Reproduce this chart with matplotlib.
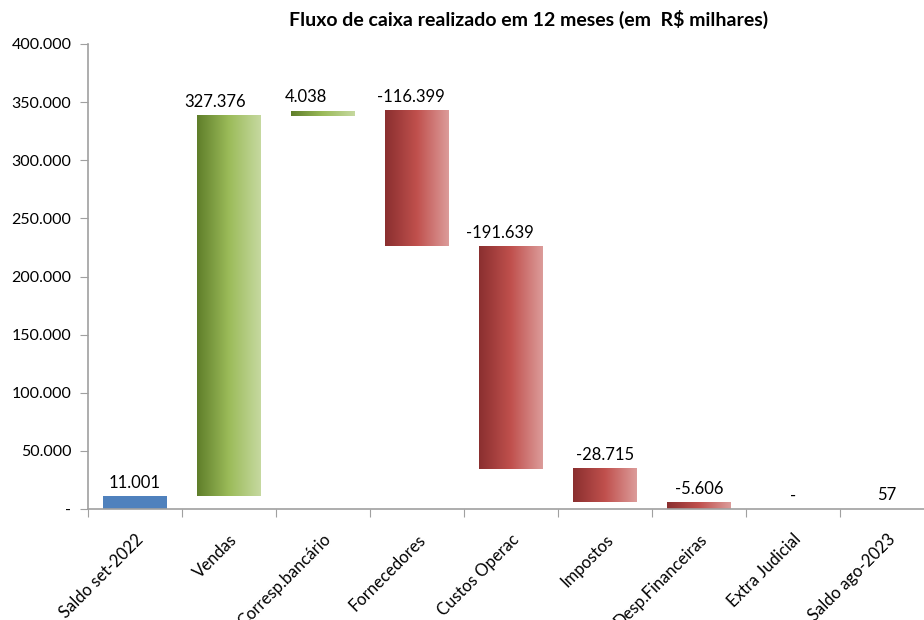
import numpy as np
import matplotlib.pyplot as plt
from matplotlib.colors import LinearSegmentedColormap

plt.rcParams['font.family'] = ['Lato', 'DejaVu Sans']

categorias = ['Saldo set-2022', 'Vendas', 'Corresp.bancário', 'Fornecedores',
              'Custos Operac', 'Impostos', 'Desp.Financeiras', 'Extra Judicial',
              'Saldo ago-2023']
valores = [11001, 327376, 4038, -116399, -191639, -28715, -5606, 0, 57]
rotulos = ['11.001', '327.376', '4.038', '-116.399', '-191.639', '-28.715',
           '-5.606', '-', '57']
tipo = ['saldo', 'var', 'var', 'var', 'var', 'var', 'var', 'var', 'saldo']

verde = LinearSegmentedColormap.from_list('verde', ['#5f7e2a', '#9bbb59', '#c6d9a0'])
vermelho = LinearSegmentedColormap.from_list('vermelho', ['#8a2f2f', '#c0504d', '#dc9c9a'])

fig = plt.figure(figsize=(9.24, 6.2), dpi=100)
ax = fig.add_axes([88/924, 111/620, 846/924, 465/620])

largura = 0.68
grad = np.linspace(0, 1, 256).reshape(1, -1)
acum = 0
topos = []
for i, v in enumerate(valores):
    x0 = i + 0.5 - largura / 2
    x1 = i + 0.5 + largura / 2
    if tipo[i] == 'saldo':
        base, topo = 0, v
        ax.bar(i + 0.5, v, width=largura, color='#4f81bd', zorder=2)
        acum = v
    else:
        ini = acum
        acum = acum + v
        base, topo = min(ini, acum), max(ini, acum)
        if v != 0:
            cm = verde if v > 0 else vermelho
            ax.imshow(grad, cmap=cm, aspect='auto', extent=(x0, x1, base, topo),
                      zorder=2)
    topos.append(topo)

# deslocamento horizontal dos rótulos (como no Excel)
dx = [0, -13, -16, -6, -11, 0, 0, 0, 0]
for i, t in enumerate(rotulos):
    ax.annotate(t, (i + 0.5, topos[i]), xytext=(dx[i] * 0.75, 4),
                textcoords='offset points',
                ha='center', va='bottom', fontsize=12)

ax.set_xlim(0, len(categorias))
ax.set_ylim(0, 400000)

yt = np.arange(0, 400001, 50000)
ax.set_yticks(yt)
ax.set_yticklabels(['-'] + [f'{int(y/1000)}.000' for y in yt[1:]], fontsize=11.5)

ax.set_xticks(np.arange(0, len(categorias) + 1))
ax.set_xticklabels([])
ax.set_xticks(np.arange(len(categorias)) + 0.5, minor=True)
ax.set_xticklabels(categorias, minor=True, rotation=45, ha='right', va='top',
                   rotation_mode='anchor', fontsize=12)
ax.tick_params(axis='x', which='minor', length=0, pad=16)
ax.tick_params(axis='x', which='major', length=6, color='#a0a0a0')
ax.tick_params(axis='y', length=6, color='#a0a0a0', pad=6)

for s in ['top', 'right']:
    ax.spines[s].set_visible(False)
for s in ['left', 'bottom']:
    ax.spines[s].set_color('#a0a0a0')
    ax.spines[s].set_linewidth(1.2)

fig.text(529/924, 1 - 19/620, 'Fluxo de caixa realizado em 12 meses (em  R$ milhares)',
         ha='center', va='center', fontsize=14, fontweight='bold')

fig.savefig('out.png', dpi=100)
